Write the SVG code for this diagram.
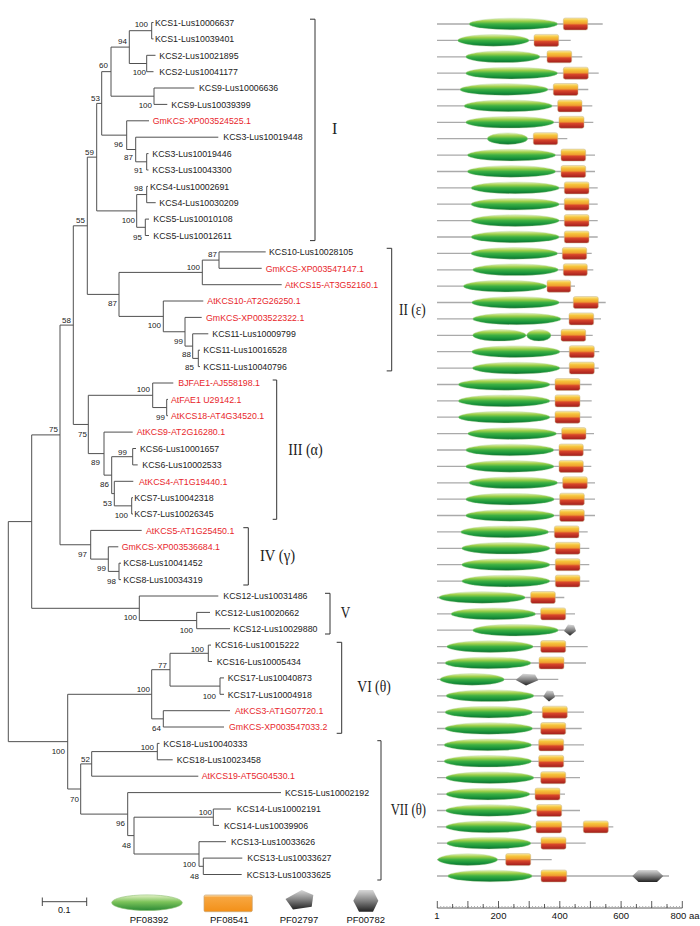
<svg xmlns="http://www.w3.org/2000/svg" width="700" height="926" viewBox="0 0 700 926">
<style>
.t{font-family:"Liberation Sans",Arial,sans-serif;font-size:8.8px;fill:#222}
.r{fill:#e8262b}
.b{font-family:"Liberation Sans",Arial,sans-serif;font-size:8px;fill:#222;text-anchor:end}
.c{font-family:"Liberation Serif","Times New Roman",serif;font-size:16px;fill:#222}
.tree{fill:none;stroke:#505050;stroke-width:1}
.br{fill:none;stroke:#333;stroke-width:1}
.ln{stroke:#aaaaaa;stroke-width:1.3}
.e{fill:url(#gG);stroke:#b8d8a0;stroke-width:0.4}
.x{fill:url(#gO);stroke:#c8b890;stroke-width:0.5}
.p{fill:url(#gK)}
.lg{font-family:"Liberation Sans",Arial,sans-serif;font-size:9.5px;fill:#111;text-anchor:middle}
.ax{font-family:"Liberation Sans",Arial,sans-serif;font-size:9.5px;fill:#111}
</style>
<defs>
<linearGradient id="gG" x1="0" y1="0" x2="0" y2="1">
<stop offset="0" stop-color="#e4efb8"/><stop offset="0.25" stop-color="#9fd04a"/><stop offset="0.5" stop-color="#3cb043"/><stop offset="0.8" stop-color="#16903a"/><stop offset="1" stop-color="#0d6b2c"/>
</linearGradient>
<linearGradient id="gO" x1="0" y1="0" x2="0" y2="1">
<stop offset="0" stop-color="#fbeaa0"/><stop offset="0.22" stop-color="#f5c43a"/><stop offset="0.45" stop-color="#f0a030"/><stop offset="0.6" stop-color="#d8452a"/><stop offset="1" stop-color="#a01c1c"/>
</linearGradient>
<linearGradient id="gK" x1="0" y1="0" x2="0" y2="1">
<stop offset="0" stop-color="#d8d8d8"/><stop offset="0.45" stop-color="#8a8a8a"/><stop offset="1" stop-color="#222"/>
</linearGradient>
<linearGradient id="gL" x1="0" y1="0" x2="0" y2="1">
<stop offset="0" stop-color="#e6f2c8"/><stop offset="0.45" stop-color="#7cc35a"/><stop offset="1" stop-color="#2a8a35"/>
</linearGradient>
<linearGradient id="gLO" x1="0" y1="0" x2="0" y2="1">
<stop offset="0" stop-color="#fde0b0"/><stop offset="0.15" stop-color="#f7a640"/><stop offset="1" stop-color="#f39018"/>
</linearGradient>
</defs>

<g id="connectors">
<path class="tree" d="M151.7,22.5V38.9M151.7,22.5H153.5M151.7,38.9H153.5
M146.7,55.3V71.7M146.7,55.3H155.5M146.7,71.7H153.5
M129.3,30.7V63.5M129.3,30.7H151.7M129.3,63.5H146.7
M154,88V104.4M154,88H194.3M154,104.4H167.3
M111,47.1V96.2M111,47.1H129.3M111,96.2H154
M146.7,153.6V170M146.7,153.6H148.5M146.7,170H148.5
M135.7,137.2V161.8M135.7,137.2H218.3M135.7,161.8H146.7
M126.7,120.8V149.5M126.7,120.8H149M126.7,149.5H135.7
M101.7,71.65V135.15M101.7,71.65H111M101.7,135.15H126.7
M146.7,186.4V202.7M146.7,186.4H148M146.7,202.7H155.7
M145.3,219.1V235.5M145.3,219.1H149M145.3,235.5H149
M136.7,194.55V227.3M136.7,194.55H146.7M136.7,227.3H145.3
M96.7,103.4V210.9M96.7,103.4H101.7M96.7,210.9H136.7
M219,251.9V268.3M219,251.9H265.7M219,268.3H261.7
M202.3,260.1V284.7M202.3,260.1H219M202.3,284.7H281.7
M198.3,350.2V366.6M198.3,350.2H200M198.3,366.6H200
M192.7,333.8V358.4M192.7,333.8H208.3M192.7,358.4H198.3
M185,317.4V346.1M185,317.4H201.7M185,346.1H192.7
M163.3,301V331.75M163.3,301H203.3M163.3,331.75H185
M119,272.4V316.4M119,272.4H202.3M119,316.4H163.3
M87.3,157.15V294.4M87.3,157.15H96.7M87.3,294.4H119
M166.7,399.4V415.7M166.7,399.4H168M166.7,415.7H168
M152.7,383V407.55M152.7,383H173.3M152.7,407.55H166.7
M132.7,448.5V464.9M132.7,448.5H136M132.7,464.9H137.7
M131.7,497.7V514M131.7,497.7H133M131.7,514H133
M114.3,481.3V505.85M114.3,481.3H133.3M114.3,505.85H131.7
M111.7,456.7V493.6M111.7,456.7H132.7M111.7,493.6H114.3
M104,432.1V475.15M104,432.1H132.7M104,475.15H111.7
M88.3,395.3V453.6M88.3,395.3H152.7M88.3,453.6H104
M73.3,225.8V424.45M73.3,225.8H87.3M73.3,424.45H88.3
M119,563.2V579.6M119,563.2H121M119,579.6H121
M108.3,546.8V571.4M108.3,546.8H118.3M108.3,571.4H119
M90.7,530.4V559.1M90.7,530.4H141.7M90.7,559.1H108.3
M60,325.1V544.75M60,325.1H73.3M60,544.75H90.7
M196.7,612.4V628.7M196.7,612.4H210M196.7,628.7H230
M139.3,596V620.55M139.3,596H218.3M139.3,620.55H196.7
M31.7,434.9V608.3M31.7,434.9H60M31.7,608.3H139.3
M208.3,645.1V661.5M208.3,645.1H211M208.3,661.5H212
M220,677.9V694.3M220,677.9H224M220,694.3H224
M170,653.3V686.1M170,653.3H208.3M170,686.1H220
M163.3,710.7V727M163.3,710.7H230M163.3,727H224
M151.7,669.7V718.85M151.7,669.7H170M151.7,718.85H163.3
M157.3,743.4V759.8M157.3,743.4H159.5M157.3,759.8H172.7
M91.7,751.6V776.2M91.7,751.6H157.3M91.7,776.2H198.3
M213.3,809V825.4M213.3,809H231M213.3,825.4H219
M203.3,858.1V874.5M203.3,858.1H242.3M203.3,874.5H241.7
M199,841.7V866.3M199,841.7H226M199,866.3H203.3
M134,817.2V854M134,817.2H213.3M134,854H199
M127.7,792.6V835.6M127.7,792.6H281M127.7,835.6H134
M80.7,763.9V814.1M80.7,763.9H91.7M80.7,814.1H127.7
M67.7,694.3V789M67.7,694.3H151.7M67.7,789H80.7
M8.3,521.6V741.65M8.3,521.6H31.7M8.3,741.65H67.7"/>
<g id="bootstrap">
<text class="b" x="148" y="27">100</text>
<text class="b" x="127" y="43.7">94</text>
<text class="b" x="146" y="74.7">100</text>
<text class="b" x="108" y="68.3">60</text>
<text class="b" x="152" y="107.7">100</text>
<text class="b" x="100" y="100.7">53</text>
<text class="b" x="123" y="147">96</text>
<text class="b" x="133" y="159.7">87</text>
<text class="b" x="94" y="154.7">59</text>
<text class="b" x="143" y="173">91</text>
<text class="b" x="143" y="191.3">98</text>
<text class="b" x="135" y="223">100</text>
<text class="b" x="142" y="239.7">95</text>
<text class="b" x="85" y="223">55</text>
<text class="b" x="217" y="257.3">87</text>
<text class="b" x="200" y="269.7">100</text>
<text class="b" x="117" y="306">87</text>
<text class="b" x="71" y="323">58</text>
<text class="b" x="161" y="328">100</text>
<text class="b" x="183" y="343.7">99</text>
<text class="b" x="191" y="357">88</text>
<text class="b" x="194" y="370.3">85</text>
<text class="b" x="150" y="392.3">100</text>
<text class="b" x="165" y="419.7">99</text>
<text class="b" x="58" y="432.3">75</text>
<text class="b" x="87" y="436.5">75</text>
<text class="b" x="127" y="454.7">99</text>
<text class="b" x="100" y="465.3">89</text>
<text class="b" x="109" y="487.3">86</text>
<text class="b" x="112" y="505.7">53</text>
<text class="b" x="128" y="518">100</text>
<text class="b" x="87" y="557">97</text>
<text class="b" x="106" y="571.3">99</text>
<text class="b" x="116" y="583.7">98</text>
<text class="b" x="137" y="620.3">100</text>
<text class="b" x="193" y="633">100</text>
<text class="b" x="204" y="652">100</text>
<text class="b" x="167" y="668">77</text>
<text class="b" x="150" y="692.3">100</text>
<text class="b" x="216" y="698.7">100</text>
<text class="b" x="161" y="731.3">64</text>
<text class="b" x="154" y="749.7">100</text>
<text class="b" x="65" y="753.7">100</text>
<text class="b" x="90" y="762">52</text>
<text class="b" x="79" y="802">70</text>
<text class="b" x="212" y="815.3">100</text>
<text class="b" x="125" y="826.3">96</text>
<text class="b" x="131" y="848">48</text>
<text class="b" x="196" y="867">100</text>
<text class="b" x="199" y="878.7">48</text>
</g>
</g>

<g id="leaves">
<g id="n1"><text class="t" x="155" y="25.7">KCS1-Lus10006637</text></g>
<g id="n2"><text class="t" x="155" y="42.1">KCS1-Lus10039401</text></g>
<g id="n3"><text class="t" x="159.3" y="58.5">KCS2-Lus10021895</text></g>
<g id="n4"><text class="t" x="159.3" y="74.9">KCS2-Lus10041177</text></g>
<g id="n5"><text class="t" x="199" y="91.2">KCS9-Lus10006636</text></g>
<g id="n6"><text class="t" x="171.3" y="107.6">KCS9-Lus10039399</text></g>
<g id="n7"><text class="t r" x="152.7" y="124">GmKCS-XP003524525.1</text></g>
<g id="n8"><text class="t" x="223.3" y="140.4">KCS3-Lus10019448</text></g>
<g id="n9"><text class="t" x="152.3" y="156.8">KCS3-Lus10019446</text></g>
<g id="n10"><text class="t" x="152.3" y="173.2">KCS3-Lus10043300</text></g>
<g id="n11"><text class="t" x="150" y="189.6">KCS4-Lus10002691</text></g>
<g id="n12"><text class="t" x="159.3" y="205.9">KCS4-Lus10030209</text></g>
<g id="n13"><text class="t" x="153.3" y="222.3">KCS5-Lus10010108</text></g>
<g id="n14"><text class="t" x="153.3" y="238.7">KCS5-Lus10012611</text></g>
<g id="n15"><text class="t" x="269" y="255.1">KCS10-Lus10028105</text></g>
<g id="n16"><text class="t r" x="265.7" y="271.5">GmKCS-XP003547147.1</text></g>
<g id="n17"><text class="t r" x="285" y="287.9">AtKCS15-AT3G52160.1</text></g>
<g id="n18"><text class="t r" x="207.3" y="304.2">AtKCS10-AT2G26250.1</text></g>
<g id="n19"><text class="t r" x="206" y="320.6">GmKCS-XP003522322.1</text></g>
<g id="n20"><text class="t" x="212.3" y="337">KCS11-Lus10009799</text></g>
<g id="n21"><text class="t" x="203.3" y="353.4">KCS11-Lus10016528</text></g>
<g id="n22"><text class="t" x="203.3" y="369.8">KCS11-Lus10040796</text></g>
<g id="n23"><text class="t r" x="178.3" y="386.2">BJFAE1-AJ558198.1</text></g>
<g id="n24"><text class="t r" x="171" y="402.6">AtFAE1 U29142.1</text></g>
<g id="n25"><text class="t r" x="171" y="418.9">AtKCS18-AT4G34520.1</text></g>
<g id="n26"><text class="t r" x="136.7" y="435.3">AtKCS9-AT2G16280.1</text></g>
<g id="n27"><text class="t" x="140" y="451.7">KCS6-Lus10001657</text></g>
<g id="n28"><text class="t" x="142.3" y="468.1">KCS6-Lus10002533</text></g>
<g id="n29"><text class="t r" x="139" y="484.5">AtKCS4-AT1G19440.1</text></g>
<g id="n30"><text class="t" x="134.3" y="500.9">KCS7-Lus10042318</text></g>
<g id="n31"><text class="t" x="134.3" y="517.2">KCS7-Lus10026345</text></g>
<g id="n32"><text class="t r" x="146" y="533.6">AtKCS5-AT1G25450.1</text></g>
<g id="n33"><text class="t r" x="121.7" y="550">GmKCS-XP003536684.1</text></g>
<g id="n34"><text class="t" x="123.3" y="566.4">KCS8-Lus10041452</text></g>
<g id="n35"><text class="t" x="123.3" y="582.8">KCS8-Lus10034319</text></g>
<g id="n36"><text class="t" x="223.3" y="599.2">KCS12-Lus10031486</text></g>
<g id="n37"><text class="t" x="215" y="615.6">KCS12-Lus10020662</text></g>
<g id="n38"><text class="t" x="233.3" y="631.9">KCS12-Lus10029880</text></g>
<g id="n39"><text class="t" x="215" y="648.3">KCS16-Lus10015222</text></g>
<g id="n40"><text class="t" x="216.7" y="664.7">KCS16-Lus10005434</text></g>
<g id="n41"><text class="t" x="227.7" y="681.1">KCS17-Lus10040873</text></g>
<g id="n42"><text class="t" x="227.7" y="697.5">KCS17-Lus10004918</text></g>
<g id="n43"><text class="t r" x="235" y="713.9">AtKCS3-AT1G07720.1</text></g>
<g id="n44"><text class="t r" x="229" y="730.2">GmKCS-XP003547033.2</text></g>
<g id="n45"><text class="t" x="163.3" y="746.6">KCS18-Lus10040333</text></g>
<g id="n46"><text class="t" x="176.7" y="763">KCS18-Lus10023458</text></g>
<g id="n47"><text class="t r" x="201.7" y="779.4">AtKCS19-AT5G04530.1</text></g>
<g id="n48"><text class="t" x="285" y="795.8">KCS15-Lus10002192</text></g>
<g id="n49"><text class="t" x="236.7" y="812.2">KCS14-Lus10002191</text></g>
<g id="n50"><text class="t" x="224" y="828.6">KCS14-Lus10039906</text></g>
<g id="n51"><text class="t" x="231" y="844.9">KCS13-Lus10033626</text></g>
<g id="n52"><text class="t" x="247.3" y="861.3">KCS13-Lus10033627</text></g>
<g id="n53"><text class="t" x="246.7" y="877.7">KCS13-Lus10033625</text></g>
</g>

<g id="clades">
<path class="br" d="M310,19.2H315V240.6H310"/>
<text class="c" x="332" y="133.5">I</text>
<path class="br" d="M386.7,248.3H391.7V370.9H386.7"/>
<text class="c" x="399" y="315" textLength="26.7" lengthAdjust="spacingAndGlyphs">II (ε)</text>
<path class="br" d="M272.7,380H276.7V519.3H272.7"/>
<text class="c" x="288.3" y="454.8" textLength="34.4" lengthAdjust="spacingAndGlyphs">III (α)</text>
<path class="br" d="M243.3,527.7H248.3V585H243.3"/>
<text class="c" x="260" y="561.3" textLength="35" lengthAdjust="spacingAndGlyphs">IV (γ)</text>
<path class="br" d="M325,593.3H330V634H325"/>
<text class="c" x="340.7" y="618" textLength="9.5" lengthAdjust="spacingAndGlyphs">V</text>
<path class="br" d="M336.7,642.3H341.7V733.3H336.7"/>
<text class="c" x="357.3" y="692" textLength="33.4" lengthAdjust="spacingAndGlyphs">VI (θ)</text>
<path class="br" d="M377.3,740.7H381V880H377.3"/>
<text class="c" x="390.7" y="815.3" textLength="35.3" lengthAdjust="spacingAndGlyphs">VII (θ)</text>
</g>

<g id="domains">
<g id="r1"><line class="ln" x1="437" y1="24" x2="602.7" y2="24"/><ellipse class="e" cx="513.35" cy="24" rx="44.35" ry="5.8"/><rect class="x" x="563.3" y="18" width="24.4" height="12" rx="2"/></g>
<g id="r2"><line class="ln" x1="437" y1="40.4" x2="570.7" y2="40.4"/><ellipse class="e" cx="493.35" cy="40.4" rx="35.65" ry="5.8"/><rect class="x" x="534" y="34.4" width="24.7" height="12" rx="2"/></g>
<g id="r3"><line class="ln" x1="437" y1="56.8" x2="582.3" y2="56.8"/><ellipse class="e" cx="502.85" cy="56.8" rx="37.15" ry="5.8"/><rect class="x" x="547" y="50.8" width="24.7" height="12" rx="2"/></g>
<g id="r4"><line class="ln" x1="437" y1="73.2" x2="598.7" y2="73.2"/><ellipse class="e" cx="511.7" cy="73.2" rx="46" ry="5.8"/><rect class="x" x="563.3" y="67.2" width="25" height="12" rx="2"/></g>
<g id="r5"><line class="ln" x1="437" y1="89.5" x2="588.3" y2="89.5"/><ellipse class="e" cx="504" cy="89.5" rx="44" ry="5.8"/><rect class="x" x="553.3" y="83.5" width="24.7" height="12" rx="2"/></g>
<g id="r6"><line class="ln" x1="437" y1="105.9" x2="592.3" y2="105.9"/><ellipse class="e" cx="508.15" cy="105.9" rx="44.15" ry="5.8"/><rect class="x" x="557.7" y="99.9" width="24.3" height="12" rx="2"/></g>
<g id="r7"><line class="ln" x1="437" y1="122.3" x2="593.3" y2="122.3"/><ellipse class="e" cx="509.85" cy="122.3" rx="44.15" ry="5.8"/><rect class="x" x="559" y="116.3" width="25" height="12" rx="2"/></g>
<g id="r8"><line class="ln" x1="437" y1="138.7" x2="567.3" y2="138.7"/><ellipse class="e" cx="507.5" cy="138.7" rx="20.2" ry="5.8"/><rect class="x" x="533.3" y="132.7" width="24.4" height="12" rx="2"/></g>
<g id="r9"><line class="ln" x1="437" y1="155.1" x2="595" y2="155.1"/><ellipse class="e" cx="511.5" cy="155.1" rx="44.2" ry="5.8"/><rect class="x" x="561" y="149.1" width="24.7" height="12" rx="2"/></g>
<g id="r10"><line class="ln" x1="437" y1="171.5" x2="595" y2="171.5"/><ellipse class="e" cx="511.5" cy="171.5" rx="44.2" ry="5.8"/><rect class="x" x="561" y="165.5" width="24.7" height="12" rx="2"/></g>
<g id="r11"><line class="ln" x1="437" y1="187.9" x2="597.7" y2="187.9"/><ellipse class="e" cx="515.15" cy="187.9" rx="44.15" ry="5.8"/><rect class="x" x="564.3" y="181.9" width="24.7" height="12" rx="2"/></g>
<g id="r12"><line class="ln" x1="437" y1="204.2" x2="597.7" y2="204.2"/><ellipse class="e" cx="515.15" cy="204.2" rx="44.15" ry="5.8"/><rect class="x" x="564.3" y="198.2" width="24.7" height="12" rx="2"/></g>
<g id="r13"><line class="ln" x1="437" y1="220.6" x2="597.7" y2="220.6"/><ellipse class="e" cx="515.15" cy="220.6" rx="44.15" ry="5.8"/><rect class="x" x="564.3" y="214.6" width="24.7" height="12" rx="2"/></g>
<g id="r14"><line class="ln" x1="437" y1="237" x2="597.7" y2="237"/><ellipse class="e" cx="515.15" cy="237" rx="44.15" ry="5.8"/><rect class="x" x="564.3" y="231" width="24.7" height="12" rx="2"/></g>
<g id="r15"><line class="ln" x1="437" y1="253.4" x2="591.7" y2="253.4"/><ellipse class="e" cx="514.35" cy="253.4" rx="43.35" ry="5.8"/><rect class="x" x="562.3" y="247.4" width="24.4" height="12" rx="2"/></g>
<g id="r16"><line class="ln" x1="437" y1="269.8" x2="593.3" y2="269.8"/><ellipse class="e" cx="515.5" cy="269.8" rx="42.8" ry="5.8"/><rect class="x" x="563.3" y="263.8" width="24" height="12" rx="2"/></g>
<g id="r17"><line class="ln" x1="437" y1="286.2" x2="575" y2="286.2"/><ellipse class="e" cx="505" cy="286.2" rx="41.7" ry="5.8"/><rect class="x" x="547" y="280.2" width="23.7" height="12" rx="2"/></g>
<g id="r18"><line class="ln" x1="437" y1="302.5" x2="605.7" y2="302.5"/><ellipse class="e" cx="515.5" cy="302.5" rx="43.8" ry="5.8"/><rect class="x" x="573.3" y="296.5" width="25" height="12" rx="2"/></g>
<g id="r19"><line class="ln" x1="437" y1="318.9" x2="601" y2="318.9"/><ellipse class="e" cx="516.85" cy="318.9" rx="44.15" ry="5.8"/><rect class="x" x="569" y="312.9" width="24.7" height="12" rx="2"/></g>
<g id="r20"><line class="ln" x1="437" y1="335.3" x2="592.7" y2="335.3"/><ellipse class="e" cx="499.35" cy="335.3" rx="26.65" ry="5.8"/><ellipse class="e" cx="538.85" cy="335.3" rx="12.15" ry="5.8"/><rect class="x" x="561" y="329.3" width="24.7" height="12" rx="2"/></g>
<g id="r21"><line class="ln" x1="437" y1="351.7" x2="599.3" y2="351.7"/><ellipse class="e" cx="515.85" cy="351.7" rx="44.15" ry="5.8"/><rect class="x" x="569.3" y="345.7" width="25" height="12" rx="2"/></g>
<g id="r22"><line class="ln" x1="437" y1="368.1" x2="598.7" y2="368.1"/><ellipse class="e" cx="516.15" cy="368.1" rx="43.85" ry="5.8"/><rect class="x" x="569.3" y="362.1" width="25" height="12" rx="2"/></g>
<g id="r23"><line class="ln" x1="437" y1="384.5" x2="591.7" y2="384.5"/><ellipse class="e" cx="504.15" cy="384.5" rx="45.85" ry="5.8"/><rect class="x" x="555" y="378.5" width="25" height="12" rx="2"/></g>
<g id="r24"><line class="ln" x1="437" y1="400.9" x2="591.7" y2="400.9"/><ellipse class="e" cx="504.15" cy="400.9" rx="45.85" ry="5.8"/><rect class="x" x="555" y="394.9" width="25" height="12" rx="2"/></g>
<g id="r25"><line class="ln" x1="437" y1="417.2" x2="591.7" y2="417.2"/><ellipse class="e" cx="504.15" cy="417.2" rx="45.85" ry="5.8"/><rect class="x" x="555" y="411.2" width="25" height="12" rx="2"/></g>
<g id="r26"><line class="ln" x1="437" y1="433.6" x2="594" y2="433.6"/><ellipse class="e" cx="512.2" cy="433.6" rx="44.5" ry="5.8"/><rect class="x" x="561.7" y="427.6" width="24.3" height="12" rx="2"/></g>
<g id="r27"><line class="ln" x1="437" y1="450" x2="591.3" y2="450"/><ellipse class="e" cx="509.85" cy="450" rx="44.15" ry="5.8"/><rect class="x" x="559" y="444" width="24.3" height="12" rx="2"/></g>
<g id="r28"><line class="ln" x1="437" y1="466.4" x2="591.3" y2="466.4"/><ellipse class="e" cx="509.85" cy="466.4" rx="44.15" ry="5.8"/><rect class="x" x="559" y="460.4" width="24.3" height="12" rx="2"/></g>
<g id="r29"><line class="ln" x1="437" y1="482.8" x2="595" y2="482.8"/><ellipse class="e" cx="513.35" cy="482.8" rx="44.35" ry="5.8"/><rect class="x" x="562.7" y="476.8" width="24.6" height="12" rx="2"/></g>
<g id="r30"><line class="ln" x1="437" y1="499.2" x2="595" y2="499.2"/><ellipse class="e" cx="510" cy="499.2" rx="44.3" ry="5.8"/><rect class="x" x="559.7" y="493.2" width="24.6" height="12" rx="2"/></g>
<g id="r31"><line class="ln" x1="437" y1="515.5" x2="595" y2="515.5"/><ellipse class="e" cx="510" cy="515.5" rx="44.3" ry="5.8"/><rect class="x" x="559.7" y="509.5" width="24.6" height="12" rx="2"/></g>
<g id="r32"><line class="ln" x1="437" y1="531.9" x2="587.7" y2="531.9"/><ellipse class="e" cx="504.7" cy="531.9" rx="44" ry="5.8"/><rect class="x" x="554.3" y="525.9" width="24.7" height="12" rx="2"/></g>
<g id="r33"><line class="ln" x1="437" y1="548.3" x2="589.3" y2="548.3"/><ellipse class="e" cx="505.85" cy="548.3" rx="44.15" ry="5.8"/><rect class="x" x="555.3" y="542.3" width="24.7" height="12" rx="2"/></g>
<g id="r34"><line class="ln" x1="437" y1="564.7" x2="589.3" y2="564.7"/><ellipse class="e" cx="505.85" cy="564.7" rx="44.15" ry="5.8"/><rect class="x" x="555.3" y="558.7" width="24.7" height="12" rx="2"/></g>
<g id="r35"><line class="ln" x1="437" y1="581.1" x2="589.3" y2="581.1"/><ellipse class="e" cx="505.85" cy="581.1" rx="44.15" ry="5.8"/><rect class="x" x="555.3" y="575.1" width="24.7" height="12" rx="2"/></g>
<g id="r36"><line class="ln" x1="437" y1="597.5" x2="564.3" y2="597.5"/><ellipse class="e" cx="482.15" cy="597.5" rx="43.15" ry="5.8"/><rect class="x" x="530.7" y="591.5" width="24.6" height="12" rx="2"/></g>
<g id="r37"><line class="ln" x1="437" y1="613.9" x2="575" y2="613.9"/><ellipse class="e" cx="493.35" cy="613.9" rx="42.35" ry="5.8"/><rect class="x" x="540.7" y="607.9" width="25" height="12" rx="2"/></g>
<g id="r38"><line class="ln" x1="437" y1="630.2" x2="575" y2="630.2"/><ellipse class="e" cx="515.5" cy="630.2" rx="42.8" ry="5.8"/><polygon class="p" points="564,631 568,624.6 574,625.2 576,631 570,635.8"/></g>
<g id="r39"><line class="ln" x1="437" y1="646.6" x2="587.7" y2="646.6"/><ellipse class="e" cx="490" cy="646.6" rx="43.3" ry="5.8"/><rect class="x" x="540.7" y="640.6" width="25" height="12" rx="2"/></g>
<g id="r40"><line class="ln" x1="437" y1="663" x2="586" y2="663"/><ellipse class="e" cx="488" cy="663" rx="43" ry="5.8"/><rect class="x" x="539" y="657" width="25" height="12" rx="2"/></g>
<g id="r41"><line class="ln" x1="437" y1="679.4" x2="558.3" y2="679.4"/><ellipse class="e" cx="472.15" cy="679.4" rx="32.15" ry="5.8"/><polygon class="p" points="515.7,680 523,673.8 535,674.6 538.3,680.2 526,685.6"/></g>
<g id="r42"><line class="ln" x1="437" y1="695.8" x2="563.3" y2="695.8"/><ellipse class="e" cx="490" cy="695.8" rx="44" ry="5.8"/><polygon class="p" points="543.3,696.5 547,690.5 553,691 555,697 549,701.5"/></g>
<g id="r43"><line class="ln" x1="437" y1="712.2" x2="584" y2="712.2"/><ellipse class="e" cx="488.85" cy="712.2" rx="43.85" ry="5.8"/><rect class="x" x="542.3" y="706.2" width="25" height="12" rx="2"/></g>
<g id="r44"><line class="ln" x1="437" y1="728.5" x2="581.7" y2="728.5"/><ellipse class="e" cx="488.85" cy="728.5" rx="43.85" ry="5.8"/><rect class="x" x="540.7" y="722.5" width="25" height="12" rx="2"/></g>
<g id="r45"><line class="ln" x1="437" y1="744.9" x2="584" y2="744.9"/><ellipse class="e" cx="487.85" cy="744.9" rx="43.85" ry="5.8"/><rect class="x" x="538.7" y="738.9" width="25" height="12" rx="2"/></g>
<g id="r46"><line class="ln" x1="437" y1="761.3" x2="584" y2="761.3"/><ellipse class="e" cx="487.85" cy="761.3" rx="43.85" ry="5.8"/><rect class="x" x="538.7" y="755.3" width="25" height="12" rx="2"/></g>
<g id="r47"><line class="ln" x1="437" y1="777.7" x2="580" y2="777.7"/><ellipse class="e" cx="489.85" cy="777.7" rx="44.15" ry="5.8"/><rect class="x" x="540.7" y="771.7" width="25" height="12" rx="2"/></g>
<g id="r48"><line class="ln" x1="437" y1="794.1" x2="565" y2="794.1"/><ellipse class="e" cx="488" cy="794.1" rx="42" ry="5.8"/><rect class="x" x="535" y="788.1" width="25" height="12" rx="2"/></g>
<g id="r49"><line class="ln" x1="437" y1="810.5" x2="580" y2="810.5"/><ellipse class="e" cx="488.7" cy="810.5" rx="43" ry="5.8"/><rect class="x" x="536.7" y="804.5" width="25" height="12" rx="2"/></g>
<g id="r50"><line class="ln" x1="437" y1="826.9" x2="613.3" y2="826.9"/><ellipse class="e" cx="488.7" cy="826.9" rx="43" ry="5.8"/><rect class="x" x="536" y="820.9" width="25.7" height="12" rx="2"/><rect class="x" x="583.3" y="820.9" width="25" height="12" rx="2"/></g>
<g id="r51"><line class="ln" x1="437" y1="843.2" x2="585.7" y2="843.2"/><ellipse class="e" cx="488.85" cy="843.2" rx="42.15" ry="5.8"/><rect class="x" x="541" y="837.2" width="25" height="12" rx="2"/></g>
<g id="r52"><line class="ln" x1="437" y1="859.6" x2="551.7" y2="859.6"/><ellipse class="e" cx="467.7" cy="859.6" rx="30" ry="5.8"/><rect class="x" x="505.7" y="853.6" width="25" height="12" rx="2"/></g>
<g id="r53"><line class="ln" x1="437" y1="876" x2="669" y2="876"/><ellipse class="e" cx="490" cy="876" rx="42.3" ry="5.8"/><rect class="x" x="541" y="870" width="25.7" height="12" rx="2"/><polygon class="p" points="632.3,876 638.5,870 657,870 663.3,876 657,882 638.5,882"/></g>
</g>

<g id="axis">
<path fill="none" stroke="#333" stroke-width="0.8" d="M437.3,908H682.3
M437.3,901V908M467.9,901V908M498.5,901V908M529.2,901V908M559.8,901V908M590.4,901V908M621.1,901V908M651.7,901V908M682.3,901V908
M452.6,904V908M483.2,904V908M513.9,904V908M544.5,904V908M575.1,904V908M605.8,904V908M636.4,904V908M667,904V908"/>
<path fill="none" stroke="#555" stroke-width="0.6" stroke-dasharray="0.8 2.26" d="M440.4,906.5H680"/>
<text class="ax" x="437" y="918.5" text-anchor="middle">1</text>
<text class="ax" x="498.5" y="918.5" text-anchor="middle">200</text>
<text class="ax" x="559.8" y="918.5" text-anchor="middle">400</text>
<text class="ax" x="621.1" y="918.5" text-anchor="middle">600</text>
<text class="ax" x="670.5" y="918.5">800 aa</text>
</g>

<g id="legend">
<g id="scalebar"><path fill="none" stroke="#333" stroke-width="0.9" d="M42.3,901.7H86.7M42.3,897.5V906M86.7,897.5V906"/><text class="lg" x="64.3" y="912.5" style="font-size:9px">0.1</text></g>
<g id="lg-PF08392"><ellipse cx="147" cy="902.7" rx="35.3" ry="7.8" fill="url(#gL)" stroke="#8cc070" stroke-width="0.6"/><text class="lg" x="149" y="923.3">PF08392</text></g>
<g id="lg-PF08541"><rect x="204" y="895" width="48.3" height="16.7" rx="1.5" fill="url(#gLO)" stroke="#c9a77a" stroke-width="0.7"/><text class="lg" x="229.3" y="923.3">PF08541</text></g>
<g id="lg-PF02797"><polygon class="p" points="285.5,899 301.7,890 313.3,895 311.7,906.7 293,909.5"/><text class="lg" x="299" y="923.3">PF02797</text></g>
<g id="lg-PF00782"><polygon class="p" points="353.3,900.8 359,890 373,890 378.3,900.8 373,911.7 359,911.7"/><text class="lg" x="365.7" y="923.3">PF00782</text></g>
</g>
</svg>
